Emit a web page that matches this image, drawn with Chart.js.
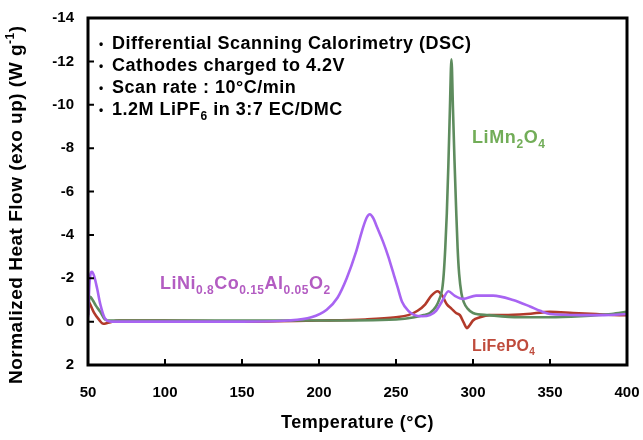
<!DOCTYPE html>
<html>
<head>
<meta charset="utf-8">
<script src="https://cdn.jsdelivr.net/npm/chart.js@4.4.1/dist/chart.umd.min.js"></script>
<style>
  body { margin: 0; background: #fff; }
  #dsc { display: block; }
</style>
</head>
<body>
<canvas id="dsc" width="643" height="440"></canvas>
<script>
// values (temperature in C, heat flow in W/g, exo up = negative)
var ncaTemp = [50, 51, 52.5, 54, 56, 58, 61, 65, 80, 100, 150, 180, 195, 205, 212, 218, 224, 228, 231, 233, 235, 238, 241.5, 245, 248, 251, 254, 258, 262, 267, 272, 276, 280, 284, 288, 293.5, 302, 313, 326, 337, 343.5, 350, 370, 385, 400];
var ncaFlow = [-0.2, -1.8, -2.3, -2.1, -1.5, -0.8, -0.15, 0, 0, 0, 0, -0.05, -0.2, -0.55, -1.1, -2.0, -3.2, -4.2, -4.8, -4.95, -4.8, -4.3, -3.7, -3.0, -2.3, -1.6, -0.9, -0.5, -0.3, -0.25, -0.3, -0.5, -0.95, -1.4, -1.2, -1.05, -1.2, -1.2, -1.0, -0.7, -0.5, -0.35, -0.3, -0.3, -0.35];

var lmoTemp = [50, 50.7, 51.5, 53, 55, 58, 61, 64, 100, 150, 200, 250, 262, 268, 272, 276, 278, 280, 281, 282, 283, 284, 285, 286, 287, 288, 289, 290, 291, 292.5, 294, 296.5, 300, 310, 330, 350, 370, 390, 400];
var lmoFlow = [-0.3, -1.0, -1.15, -1.0, -0.75, -0.45, -0.1, -0.05, -0.05, -0.05, -0.05, -0.1, -0.2, -0.3, -0.4, -0.7, -1.0, -1.5, -2.2, -3.4, -5.0, -7.2, -9.8, -12.1, -9.8, -7.4, -5.3, -3.4, -2.2, -1.3, -0.9, -0.6, -0.4, -0.3, -0.2, -0.2, -0.25, -0.35, -0.45];

var lfpTemp = [50, 50.5, 52, 54, 57, 60, 63, 70, 100, 150, 200, 230, 250, 258, 264, 269, 273, 277, 280, 283, 286, 289, 291.5, 294, 296, 297.5, 300, 304.5, 311, 320, 335, 350, 365, 380, 395, 400];
var lfpFlow = [-0.3, -0.9, -0.7, -0.4, -0.1, 0.1, 0.05, -0.05, -0.05, 0, -0.05, -0.1, -0.2, -0.3, -0.5, -0.8, -1.2, -1.4, -1.2, -0.8, -0.6, -0.4, -0.3, 0.05, 0.3, 0.2, -0.05, -0.2, -0.3, -0.3, -0.35, -0.45, -0.4, -0.35, -0.3, -0.3];

var xTicks = [50, 100, 150, 200, 250, 300, 350, 400];
var yTicks = [-14, -12, -10, -8, -6, -4, -2, 0, 2];

var notes = [
  [['Differential Scanning Calorimetry (DSC)', 0]],
  [['Cathodes charged to 4.2V', 0]],
  [['Scan rate : 10\u00b0C/min', 0]],
  [['1.2M LiPF', 0], ['6', -1], [' in 3:7 EC/DMC', 0]]
];

function pts(t, v) {
  var out = [];
  for (var i = 0; i < t.length; i++) out.push({x: t[i], y: v[i]});
  return out;
}

var FONT = '"Liberation Sans", Arial, sans-serif';

// draws a run of text with sub (-1) / sup (1) parts, returns width
function richText(ctx, x, y, parts, size, color, spacing) {
  var cx = x;
  ctx.fillStyle = color;
  ctx.textBaseline = 'alphabetic';
  ctx.textAlign = 'left';
  ctx.letterSpacing = (spacing || 0) + 'px';
  for (var i = 0; i < parts.length; i++) {
    var txt = parts[i][0], kind = parts[i][1];
    var s = kind === 0 ? size : Math.round(size * 0.65);
    ctx.font = 'bold ' + s + 'px ' + FONT;
    var dy = kind === -1 ? size * 0.28 : (kind === 1 ? -size * 0.42 : 0);
    ctx.fillText(txt, cx, y + dy);
    cx += ctx.measureText(txt).width;
  }
  ctx.letterSpacing = '0px';
  return cx - x;
}

var extras = {
  id: 'extras',
  afterDatasetsDraw: function(chart) {
    var ctx = chart.ctx, a = chart.chartArea;
    var xs = chart.scales.x, ys = chart.scales.y;
    ctx.save();
    // frame
    ctx.strokeStyle = '#000';
    ctx.lineWidth = 3;
    ctx.strokeRect(a.left, a.top, a.right - a.left, a.bottom - a.top);
    // inward ticks
    ctx.lineWidth = 2;
    ctx.beginPath();
    yTicks.forEach(function(v) {
      var py = ys.getPixelForValue(v);
      ctx.moveTo(a.left, py); ctx.lineTo(a.left + 6, py);
    });
    xTicks.forEach(function(v) {
      var px = xs.getPixelForValue(v);
      ctx.moveTo(px, a.bottom); ctx.lineTo(px, a.bottom - 6);
    });
    ctx.stroke();

    // notes block
    notes.forEach(function(line, i) {
      var y = 49 + i * 22;
      ctx.font = 'bold 12px ' + FONT;
      ctx.fillStyle = '#000';
      ctx.fillText('\u2022', 99, y - 1);
      richText(ctx, 112, y, line, 18, '#000', 0.5);
    });

    // series labels
    richText(ctx, 160, 289, [['LiNi', 0], ['0.8', -1], ['Co', 0], ['0.15', -1], ['Al', 0], ['0.05', -1], ['O', 0], ['2', -1]], 18, '#b35cc2', 0.5);
    richText(ctx, 472, 143, [['LiMn', 0], ['2', -1], ['O', 0], ['4', -1]], 18, '#72ad58', 0.6);
    richText(ctx, 472, 351, [['LiFePO', 0], ['4', -1]], 16, '#bf4b3c', 0.2);

    // axis titles
    ctx.font = 'bold 18px ' + FONT;
    ctx.letterSpacing = '0.5px';
    ctx.fillStyle = '#000';
    ctx.textAlign = 'center';
    ctx.fillText('Temperature (\u00b0C)', (a.left + a.right) / 2, 428);

    ctx.translate(22, 384);
    ctx.rotate(-Math.PI / 2);
    richText(ctx, 0, 0, [['Normalized Heat Flow (exo up) (W g', 0], ['-1', 1], [')', 0]], 19, '#000', 0.5);
    ctx.restore();
  }
};

new Chart(document.getElementById('dsc'), {
  type: 'line',
  data: {
    datasets: [
      { label: 'LiNi0.8Co0.15Al0.05O2', data: pts(ncaTemp, ncaFlow), borderColor: '#a864f2', borderWidth: 2.6 },
      { label: 'LiMn2O4', data: pts(lmoTemp, lmoFlow), borderColor: '#5e8c5e', borderWidth: 2.6 },
      { label: 'LiFePO4', data: pts(lfpTemp, lfpFlow), borderColor: '#b23a2a', borderWidth: 2.6 }
    ]
  },
  options: {
    responsive: false,
    animation: false,
    elements: {
      point: { radius: 0 },
      line: { cubicInterpolationMode: 'monotone', fill: false }
    },
    layout: { padding: { left: 0, right: 16, top: 18, bottom: 0 } },
    plugins: { legend: { display: false }, tooltip: { enabled: false } },
    scales: {
      x: {
        type: 'linear', min: 50, max: 400,
        afterBuildTicks: function(s) { s.ticks = xTicks.map(function(v) { return {value: v}; }); },
        afterFit: function(s) { s.height = 75; s.paddingLeft = 0; s.paddingRight = 0; },
        grid: { display: false, drawTicks: false },
        border: { display: false },
        ticks: { padding: 19, color: '#000', font: { family: FONT, size: 15, weight: 'bold' } }
      },
      y: {
        type: 'linear', min: -14, max: 2, reverse: true,
        afterBuildTicks: function(s) { s.ticks = yTicks.map(function(v) { return {value: v}; }); },
        afterFit: function(s) { s.width = 88; s.paddingTop = 0; s.paddingBottom = 0; },
        grid: { display: false, drawTicks: false },
        border: { display: false },
        ticks: { padding: 14, color: '#000', font: { family: FONT, size: 15, weight: 'bold' } }
      }
    }
  },
  plugins: [extras]
});
</script>
</body>
</html>
